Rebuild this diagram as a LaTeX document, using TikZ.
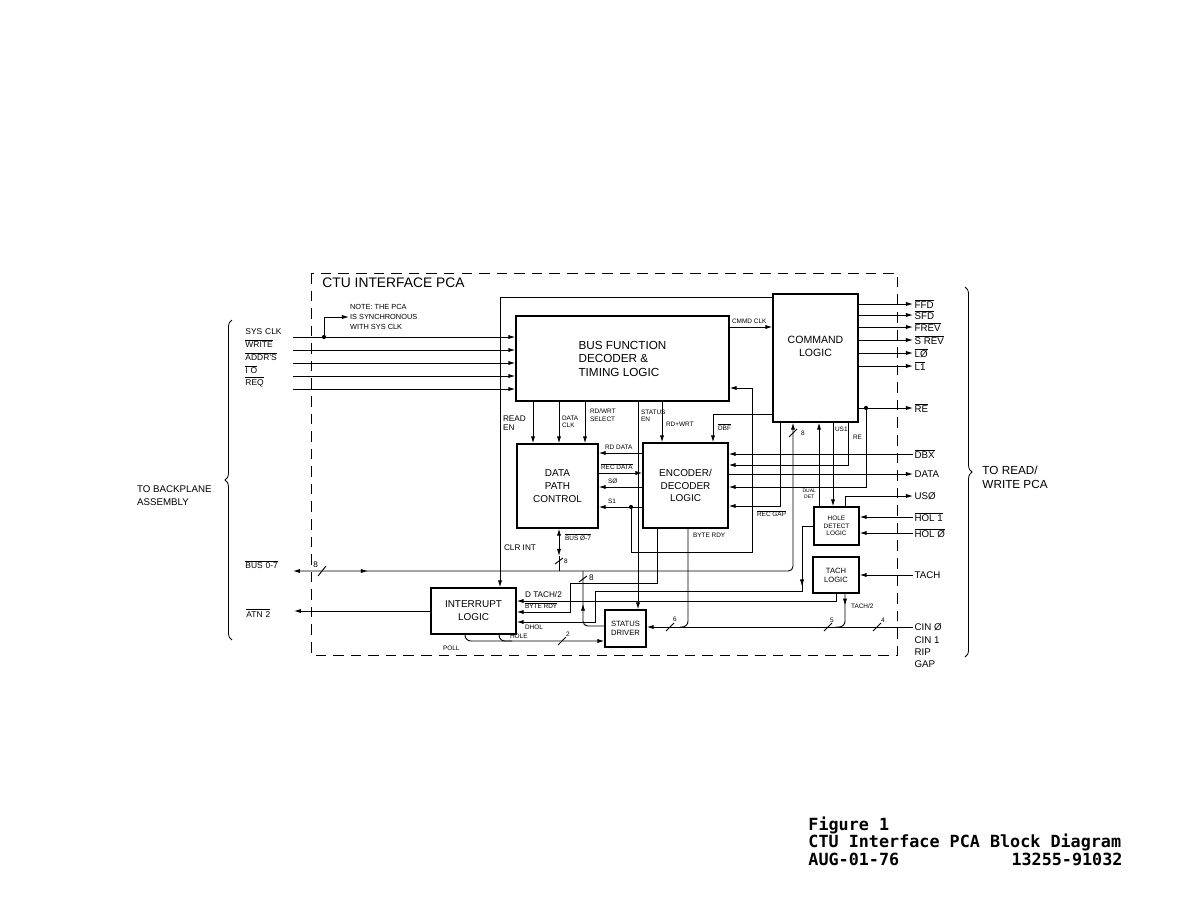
\documentclass[tikz,border=0pt]{standalone}
\usepackage{fontspec}
\setmainfont{Liberation Sans}
\newfontfamily\capfont{DejaVu Sans Mono}
\usepackage{tikz}
\usetikzlibrary{arrows.meta,positioning,decorations.pathreplacing,decorations.markings}

\newcommand{\ovl}[1]{$\overline{\mbox{#1}}$}

\begin{document}
\begin{tikzpicture}[x=0.03cm, y=-0.03cm, >={Latex[length=6pt,width=3.6pt]}, line width=0.8pt,
  blk/.style 2 args={draw, line width=1.1pt, align=center, inner sep=0pt, minimum width=#1cm, minimum height=#2cm},
  lbl/.style={inner sep=0.5pt, align=left, font=\fontsize{7}{8}\selectfont},
  tiny/.style={inner sep=0.5pt, align=left, font=\fontsize{5.5}{6.3}\selectfont},
  io/.style={anchor=west, inner sep=1pt, font=\fontsize{8.3}{9}\selectfont},
  inl/.style={anchor=south west, inner xsep=0pt, inner ysep=1.5pt, text width=1.41cm, font=\fontsize{7.2}{8}\selectfont},
  midarr/.style={postaction={decorate}, decoration={markings, mark=at position #1 with {\arrow{Latex[length=6pt,width=3.6pt]}}}}]
  \useasboundingbox (0,0) rectangle (1186,916);

  % board outline
  \draw[line width=0.6pt, dash pattern=on 9pt off 6pt] (311,273) rectangle (897,655);
  \node[anchor=west, inner sep=0pt, font=\fontsize{11.8}{13}\selectfont] (ttl) at (322,283) {CTU INTERFACE PCA};

  % blocks
  \node[blk={6.39}{2.55}, align=left, font=\fontsize{10}{11.5}\selectfont] (bus) at (622.5,358.5) {BUS FUNCTION\\DECODER \&\\TIMING LOGIC};
  \node[blk={2.55}{3.84}, font=\fontsize{9}{11}\selectfont] (cmd) at (815.5,358) {COMMAND\\LOGIC\\[9pt]\mbox{}};
  \node[blk={2.43}{2.52}, font=\fontsize{8.5}{11}\selectfont] (dpc) at (557.5,486) {DATA\\PATH\\CONTROL};
  \node[blk={2.55}{2.55}, font=\fontsize{8.5}{11}\selectfont] (enc) at (685.5,485.5) {ENCODER/\\DECODER\\LOGIC};
  \node[blk={1.35}{1.14}, font=\fontsize{5.5}{6.3}\selectfont] (hole) at (836.5,526) {HOLE\\DETECT\\LOGIC};
  \node[blk={1.38}{1.08}, font=\fontsize{6.5}{7.8}\selectfont] (tach) at (836,575) {TACH\\LOGIC};
  \node[blk={2.55}{1.38}, font=\fontsize{8.5}{11}\selectfont] (intr) at (473.5,611) {INTERRUPT\\LOGIC};
  \node[blk={1.23}{1.11}, font=\fontsize{6.5}{7.8}\selectfont] (stat) at (625.5,628.5) {STATUS\\DRIVER};

  % backplane side
  \node[inl] (lsys) at (245,337) {SYS CLK};
  \node[inl] (lwr) at (245,350) {\ovl{WRITE}};
  \node[inl] (laddr) at (245,363) {\ovl{ADDR'S}};
  \node[inl] (lio) at (245,376) {\ovl{I O}};
  \node[inl] (lreq) at (245,389) {\ovl{REQ}};
  \node[inl] (lbus) at (245,571) {\ovl{BUS 0-7}};
  \node[inl, anchor=west] (latn) at (246,613) {\ovl{ATN 2}};
  \foreach \s in {lsys,lwr,laddr,lio,lreq}
    \draw[->] (\s.south east) -- (\s.south east -| bus.west);
  \coordinate (tap) at (324,337);
  \fill (tap) circle (1.8pt);
  \node[anchor=west, inner sep=0.5pt, align=left, font=\fontsize{6.3}{8.5}\selectfont] (note) at (349,317) {NOTE: THE PCA\\IS SYNCHRONOUS\\WITH SYS CLK};
  \draw[->] (tap) |- (note.west);
  \draw[->] (intr.west) -- (intr.west -| latn.east);

  % read/write side
  \node[io] (lffd) at (913,304) {\ovl{FFD}};
  \node[io] (lsfd) at (913,315) {\ovl{SFD}};
  \node[io] (lfrev) at (913,327) {\ovl{FREV}};
  \node[io] (lsrev) at (913,340) {\ovl{S REV}};
  \node[io] (llz) at (913,353) {\ovl{LØ}};
  \node[io] (llone) at (913,366) {\ovl{L1}};
  \node[io] (lre) at (913,408) {\ovl{RE}};
  \node[io] (ldbx) at (913,454) {\ovl{DBX}};
  \node[io] (ldata) at (913,474) {DATA};
  \node[io] (lusz) at (913,496) {USØ};
  \node[io] (lhol1) at (913,517) {\ovl{HOL 1}};
  \node[io] (lholz) at (913,533) {\ovl{HOL Ø}};
  \node[io] (ltach) at (913,575) {TACH};
  \node[io] (lcin) at (913,627) {CIN Ø};
  \node[io] (lcin1) at (913,640) {CIN 1};
  \node[io] (lrip) at (913,652) {RIP};
  \node[io] (lgap) at (913,664) {GAP};
  \foreach \s in {lffd,lsfd,lfrev,lsrev,llz,llone,lre}
    \draw[->] (\s.west -| cmd.east) -- (\s.west);

  % braces
  \draw[line width=0.7pt, decorate, decoration={brace, amplitude=6pt}] (232,640) -- (232,320);
  \draw[line width=0.7pt, decorate, decoration={brace, amplitude=6pt}] (965,287) -- (965,657);
  \node[anchor=east, align=left, inner sep=0pt, font=\fontsize{8.3}{11}\selectfont] (tbp) at (212,496) {TO BACKPLANE\\ASSEMBLY};
  \node[anchor=west, align=left, inner sep=0pt, font=\fontsize{10}{12}\selectfont] (trw) at (982,477) {TO READ/\\WRITE PCA};

  % bus function to command logic and data path
  \draw[->] (bus.east |- 0,327) -- (cmd.west |- 0,327);
  \node[tiny, anchor=south west] (tcmmd) at (731,325) {CMMD CLK};
  \draw[->] (cmd.west |- 0,297) -| (intr.north -| 500,0);
  \node[lbl, anchor=west] (tclr) at (503,548) {CLR INT};
  \foreach \xx in {533,559,585}
    \draw[->] (bus.south -| \xx,0) -- (dpc.north -| \xx,0);
  \draw[->] (bus.south -| 638,0) -- (stat.north -| 638,0);
  \draw[->] (bus.south -| 662,0) -- (enc.north -| 662,0);
  \draw[->] (cmd.west |- 0,414) -| (enc.north -| 713,0);
  \node[lbl, anchor=west] (tread) at (502,423) {READ\\EN};
  \node[tiny, anchor=west] (tdclk) at (561,422) {DATA\\CLK};
  \node[tiny, anchor=west] (tsel) at (589,415) {RD/WRT\\SELECT};
  \node[tiny, anchor=west] (tsten) at (640,416) {STATUS\\EN};
  \node[tiny, anchor=west] (trdwr) at (665,424) {RD+WRT};
  \node[tiny, anchor=west] (tdbf) at (717,427) {\ovl{DBF}};

  % data path and encoder
  \draw[->] (enc.west |- 0,453) -- (dpc.east |- 0,453);
  \draw[->] (dpc.east |- 0,473) -- (enc.west |- 0,473);
  \draw[->] (enc.west |- 0,487) -- (dpc.east |- 0,487);
  \draw[->] (enc.west |- 0,507) -- (dpc.east |- 0,507);
  \node[tiny, anchor=south west] (trd) at (604,451) {RD DATA};
  \node[tiny, anchor=south west] (trec) at (600,471) {\ovl{REC DATA}};
  \node[tiny, anchor=south west] (ts0) at (607,485) {SØ};
  \node[tiny, anchor=south west] (ts1) at (607,505) {S1};
  \coordinate (sdot) at (631,507);
  \fill (sdot) circle (1.8pt);
  \draw[->] (sdot) -- (631,552) -- (752,552) -- (752,388) -- (bus.east |- 0,388);

  % encoder right side
  \draw[->] (ldbx.west) -- (ldbx.west -| enc.east);
  \draw[->] (cmd.south -| 848,0) |- (enc.east |- 0,465);
  \draw[->] (enc.east |- ldata.west) -- (ldata.west);
  \coordinate (redot) at (866,408);
  \fill (redot) circle (1.8pt);
  \draw[->] (redot) |- (enc.east |- 0,487);
  \draw[->] (cmd.south -| 780,0) |- (enc.east |- 0,506);
  \node[tiny, anchor=west] (tus1) at (834,429) {US1};
  \node[tiny, anchor=west] (tre) at (852,437) {RE};
  \node[tiny, anchor=north west] (tgap) at (756,509) {\ovl{REC GAP}};

  % hole detect and tach
  \draw[->] (hole.north -| 819,0) -- (cmd.south -| 819,0);
  \node[anchor=east, align=center, inner sep=0.5pt, font=\fontsize{4.3}{4.8}\selectfont] (tdual) at (817,494) {DUAL\\DET};
  \draw[->] (cmd.south -| 833,0) -- (hole.north -| 833,0);
  \draw[->] (hole.north -| 845,0) |- (lusz.west);
  \draw[->] (lhol1.west) -- (lhol1.west -| hole.east);
  \draw[->] (lholz.west) -- (lholz.west -| hole.east);
  \draw[->] (ltach.west) -- (ltach.west -| tach.east);

  % data bus
  \draw[{Latex[length=6pt,width=3.6pt]}-{Latex[length=6pt,width=3.6pt]}, rounded corners=4pt, midarr=0.116]
    (lbus.south east) -- (lbus.south east -| 793,0) -- (cmd.south -| 793,0);
  \draw (318,576) -- (326,566);
  \node[lbl, anchor=south east] (tw8a) at (319,569) {8};
  \draw (789,437) -- (797,429);
  \node[tiny, anchor=west] (tw8b) at (800,433) {8};
  \draw[<->] (dpc.south -| 559,0) -- (559,556);
  \draw (559,556) -- (559,571);
  \draw (555,564) -- (563,558);
  \node[tiny, anchor=west] (tw8c) at (563,561) {8};
  \node[tiny, anchor=west] (tbus) at (564,537) {\ovl{BUS Ø-7}};
  \draw[rounded corners=4pt, midarr=0.56] (stat.west |- 0,626) -- (583,626) -- (583,571);
  \draw (579,582) -- (587,576);
  \node[lbl, anchor=west] (tw8d) at (588,578) {8};

  % interrupt logic inputs
  \draw[->] (tach.south -| 836,0) |- (intr.east |- 0,601);
  \node[lbl, anchor=south west] (tdtach) at (524,599) {D TACH/2};
  \draw[->] (enc.south -| 657,0) -- (657,583) -- (570,583) -- (570,612) -- (intr.east |- 0,612);
  \node[tiny, anchor=south west] (tbyte) at (524,610) {\ovl{BYTE RDY}};
  \draw[->, midarr=0.183] (hole.west) -- (802,526) -- (802,591) -- (595,591) -- (595,622) -- (intr.east |- 0,622);
  \node[tiny, anchor=north west] (tdhol) at (524,624) {DHOL};

  % status driver inputs
  \draw[->] (lcin.west) -- (lcin.west -| stat.east);
  \draw[rounded corners=5pt, midarr=0.3] (tach.south -| 845,0) |- (836,627);
  \node[tiny, anchor=west] (ttach) at (850,606) {TACH/2};
  \draw[rounded corners=5pt] (enc.south -| 688,0) |- (680,627);
  \node[tiny, anchor=west] (tbrdy) at (692,535) {BYTE RDY};
  \draw (873,631) -- (881,623);
  \node[tiny, anchor=south west] (tw4) at (880,624) {4};
  \draw (824,631) -- (832,623);
  \node[tiny, anchor=south west] (tw5) at (829,624) {5};
  \draw (666,631) -- (674,623);
  \node[tiny, anchor=south west] (tw6) at (672,623) {6};
  \draw[->, rounded corners=5pt] (intr.south -| 465,0) |- (stat.west |- 0,641);
  \draw[rounded corners=5pt] (intr.south -| 499,0) |- (512,641);
  \draw (558,645) -- (566,637);
  \node[tiny, anchor=south west] (tw2) at (565,638) {2};
  \node[tiny, anchor=north west] (tpoll) at (442,645) {POLL};
  \node[tiny, anchor=south west] (thole) at (509,640) {HOLE};

  % caption
  \node[anchor=north west, inner sep=0pt, text width=9.42cm, align=left,
    font=\capfont\bfseries\fontsize{14.3}{15}\selectfont] (cap) at (808,816)
    {Figure\hphantom{0}1\\CTU\hphantom{0}Interface\hphantom{0}PCA\hphantom{0}Block\hphantom{0}Diagram\\AUG-01-76\hskip 0pt plus 1fill 13255-91032};
\end{tikzpicture}
\end{document}
